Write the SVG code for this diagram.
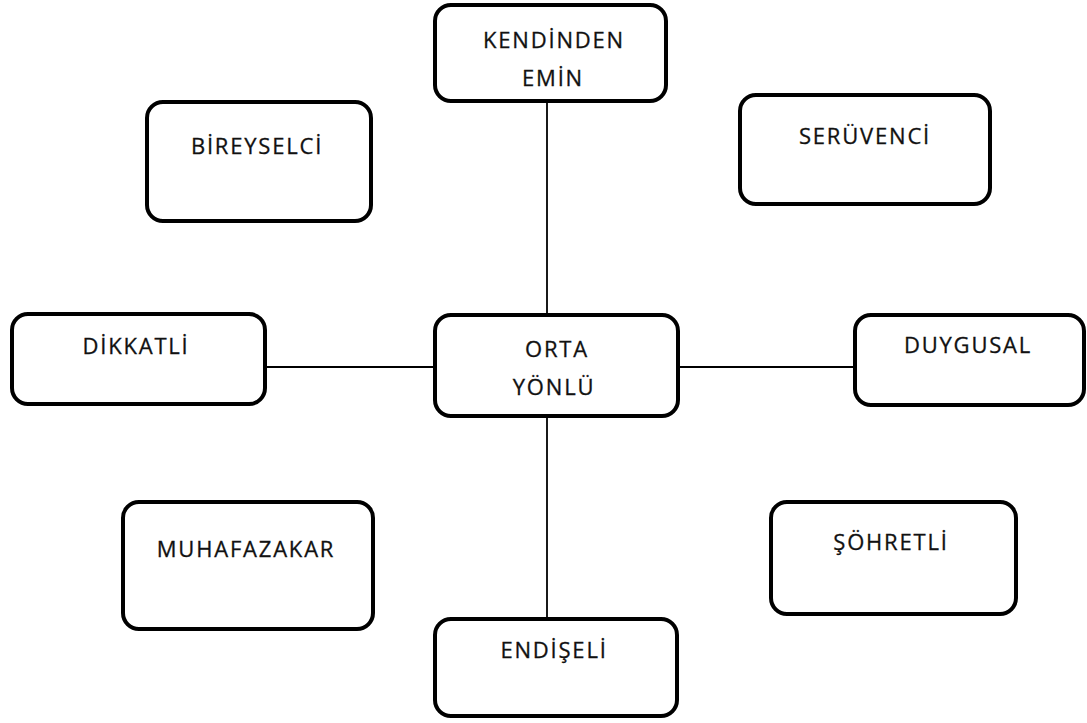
<svg xmlns="http://www.w3.org/2000/svg" width="1087" height="723" viewBox="0 0 1087 723">
<style>
.box{fill:#fff;stroke:#000;stroke-width:4}
.lbl{font-family:"Open Sans","Liberation Sans",sans-serif;font-size:22px;fill:#111;text-anchor:middle;letter-spacing:1.8px;stroke:#111;stroke-width:0.3}
.con{stroke:#000;stroke-width:1.8;fill:none}
</style>
<rect width="1087" height="723" fill="#fff"/>
<g id="connectors">
<line class="con" x1="547" y1="102" x2="547" y2="315"/>
<line class="con" x1="547" y1="417" x2="547" y2="619"/>
<line class="con" x1="265" y1="367" x2="435" y2="367"/>
<line class="con" x1="678" y1="367" x2="855" y2="367"/>
</g>
<g id="kendinden-emin">
<rect class="box" x="435" y="5" width="231" height="96" rx="16"/>
<text class="lbl" x="554" y="48">KENDİNDEN</text>
<text class="lbl" x="553" y="86">EMİN</text>
</g>
<g id="bireyselci">
<rect class="box" x="147" y="102" width="224" height="119" rx="16"/>
<text class="lbl" x="257" y="154">BİREYSELCİ</text>
</g>
<g id="seruvenci">
<rect class="box" x="740" y="95" width="250" height="109" rx="16"/>
<text class="lbl" x="865" y="144">SERÜVENCİ</text>
</g>
<g id="dikkatli">
<rect class="box" x="12" y="314" width="253" height="90" rx="16"/>
<text class="lbl" x="136" y="354">DİKKATLİ</text>
</g>
<g id="orta-yonlu">
<rect class="box" x="435" y="315" width="243" height="101" rx="16"/>
<text class="lbl" x="557" y="357">ORTA</text>
<text class="lbl" x="554" y="395">YÖNLÜ</text>
</g>
<g id="duygusal">
<rect class="box" x="855" y="315" width="229" height="90" rx="16"/>
<text class="lbl" x="968" y="353">DUYGUSAL</text>
</g>
<g id="muhafazakar">
<rect class="box" x="123" y="502" width="250" height="127" rx="16"/>
<text class="lbl" x="246" y="557">MUHAFAZAKAR</text>
</g>
<g id="sohretli">
<rect class="box" x="771" y="502" width="245" height="112" rx="16"/>
<text class="lbl" x="891" y="550">ŞÖHRETLİ</text>
</g>
<g id="endiseli">
<rect class="box" x="435" y="619" width="242" height="97" rx="16"/>
<text class="lbl" x="554" y="658">ENDİŞELİ</text>
</g>
</svg>
